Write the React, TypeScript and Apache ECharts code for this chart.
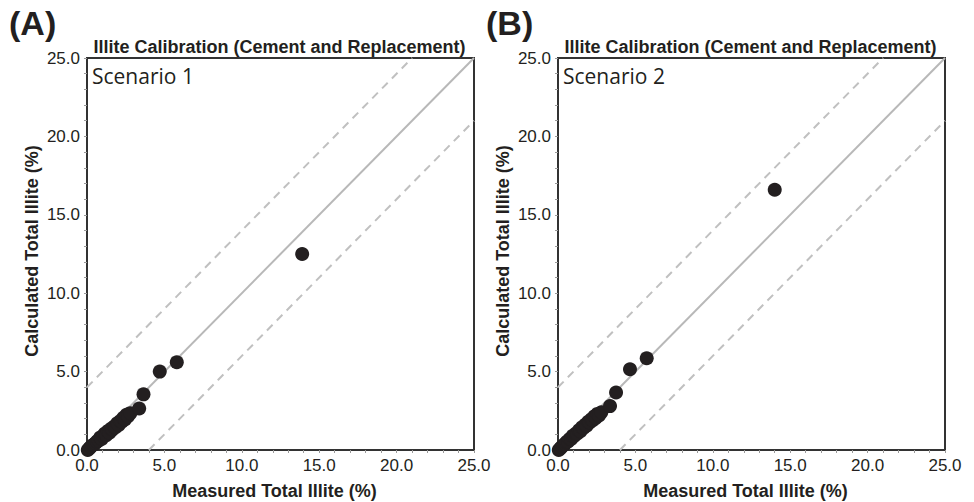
import React, { useEffect, useRef } from "react";
import * as echarts from "echarts";

const panelLetters = ["(A)", "(B)"];
const panelTitle = "Illite Calibration (Cement and Replacement)";
const scenarioNames = ["Scenario 1", "Scenario 2"];
const xAxisName = "Measured Total Illite (%)";
const yAxisName = "Calculated Total Illite (%)";
const tickValues = [0, 5, 10, 15, 20, 25];

// [measured, calculated]
const scenario1Points: number[][] = [
  [0.05, 0.0], [0.15, 0.1], [0.25, 0.2], [0.35, 0.3], [0.45, 0.35], [0.55, 0.45],
  [0.65, 0.55], [0.75, 0.6], [0.85, 0.8], [0.95, 0.7], [1.05, 0.9], [1.15, 1.05],
  [1.25, 0.95], [1.35, 1.2], [1.45, 1.1], [1.55, 1.35], [1.65, 1.3], [1.75, 1.5],
  [1.85, 1.45], [1.95, 1.7], [2.05, 1.6], [2.15, 1.85], [2.25, 1.8], [2.35, 2.05],
  [2.45, 1.95], [2.55, 2.25], [2.65, 2.15], [2.8, 2.35], [3.37, 2.65], [3.65, 3.55],
  [4.7, 5.0], [5.8, 5.6], [13.9, 12.5],
];
const scenario2Points: number[][] = [
  [0.05, 0.0], [0.15, 0.1], [0.25, 0.2], [0.35, 0.3], [0.45, 0.4], [0.55, 0.5],
  [0.65, 0.55], [0.75, 0.7], [0.85, 0.7], [0.95, 0.9], [1.05, 0.9], [1.15, 1.05],
  [1.25, 1.05], [1.35, 1.25], [1.45, 1.2], [1.55, 1.45], [1.65, 1.4], [1.75, 1.6],
  [1.85, 1.55], [1.95, 1.8], [2.05, 1.75], [2.15, 1.95], [2.25, 1.9], [2.35, 2.15],
  [2.45, 2.05], [2.55, 2.3], [2.65, 2.2], [2.8, 2.4], [3.36, 2.8], [3.75, 3.67],
  [4.65, 5.15], [5.73, 5.85], [14.0, 16.6],
];
const panelPoints = [scenario1Points, scenario2Points];

const oneToOne: number[][] = [[0, 0], [25, 25]];
const upperBound: number[][] = [[0, 4], [21, 25]];
const lowerBound: number[][] = [[4, 0], [25, 21]];

const gridLefts = [87, 558];
const gridWidth = 387;
const gridTop = 58;
const gridHeight = 392;

export default function App() {
  const ref = useRef<HTMLDivElement>(null);
  useEffect(() => {
    document.body.style.margin = "0";
    if (!ref.current) return;
    const chart = echarts.init(ref.current, undefined, { renderer: "svg" });
    const font = "Liberation Sans, Arial, sans-serif";
    const dark = "#231f20";
    const grids: any[] = [];
    const xAxes: any[] = [];
    const yAxes: any[] = [];
    const series: any[] = [];
    const graphics: any[] = [];
    const axisCommon = (i: number) => ({
      gridIndex: i,
      type: "value",
      min: tickValues[0],
      max: tickValues[tickValues.length - 1],
      interval: tickValues[1] - tickValues[0],
      splitLine: { show: false },
      axisLine: { show: true, onZero: false, lineStyle: { color: "#333", width: 2 } },
      axisTick: { show: true, inside: false, length: 3, lineStyle: { color: "#999", width: 1 } },
      minorTick: { show: true, splitNumber: 5, length: 3, lineStyle: { color: "#999", width: 1 } },
      axisLabel: {
        color: dark,
        fontFamily: font,
        fontSize: 17,
        formatter: (v: number) => v.toFixed(1),
      },
    });
    panelPoints.forEach((pts, i) => {
      const left = gridLefts[i];
      grids.push({
        left,
        top: gridTop,
        width: gridWidth,
        height: gridHeight,
        show: true,
        borderColor: "#333",
        borderWidth: 2,
        backgroundColor: "#fff",
      });
      const xa: any = axisCommon(i);
      xa.axisLabel.margin = 7;
      xAxes.push(xa);
      const ya: any = axisCommon(i);
      ya.axisLabel.margin = 7;
      yAxes.push(ya);
      const lineStyleSolid = { color: "#b8b8b8", width: 2 };
      const lineStyleDash = { color: "#c0c0c0", width: 2, type: [8, 6] };
      [
        { d: oneToOne, s: lineStyleSolid },
        { d: upperBound, s: lineStyleDash },
        { d: lowerBound, s: lineStyleDash },
      ].forEach((l) => {
        series.push({
          type: "line",
          xAxisIndex: i,
          yAxisIndex: i,
          data: l.d,
          symbol: "none",
          lineStyle: l.s,
          silent: true,
          z: 1,
        });
      });
      series.push({
        type: "scatter",
        xAxisIndex: i,
        yAxisIndex: i,
        data: pts,
        symbolSize: 14,
        itemStyle: { color: dark, opacity: 1 },
        clip: false,
        z: 3,
      });
      graphics.push(
        {
          type: "text",
          left: i === 0 ? 9 : 486,
          top: 6,
          style: { text: panelLetters[i], font: `bold 34px ${font}`, fill: dark },
        },
        {
          type: "text",
          x: left + gridWidth / 2 - 1,
          y: 47,
          style: {
            text: panelTitle,
            font: `bold 18px ${font}`,
            fill: dark,
            align: "center",
            verticalAlign: "middle",
          },
        },
        {
          type: "text",
          x: left + 5,
          y: 76,
          z: 10,
          style: {
            text: scenarioNames[i],
            font: `21px 'Open Sans', 'Noto Sans', sans-serif`,
            fill: dark,
            align: "left",
            verticalAlign: "middle",
          },
        },
        {
          type: "text",
          x: left + gridWidth / 2 - 6,
          y: 491,
          style: {
            text: xAxisName,
            font: `bold 18px ${font}`,
            fill: dark,
            align: "center",
            verticalAlign: "middle",
          },
        },
        {
          type: "text",
          x: left - 55,
          y: gridTop + gridHeight / 2 - 3,
          rotation: Math.PI / 2,
          style: {
            text: yAxisName,
            font: `bold 18px ${font}`,
            fill: dark,
            align: "center",
            verticalAlign: "middle",
          },
        }
      );
    });
    chart.setOption({
      animation: false,
      backgroundColor: "#fff",
      grid: grids,
      xAxis: xAxes,
      yAxis: yAxes,
      series,
      graphic: graphics,
    });
    return () => chart.dispose();
  }, []);
  return <div ref={ref} style={{ width: 974, height: 502 }} />;
}
